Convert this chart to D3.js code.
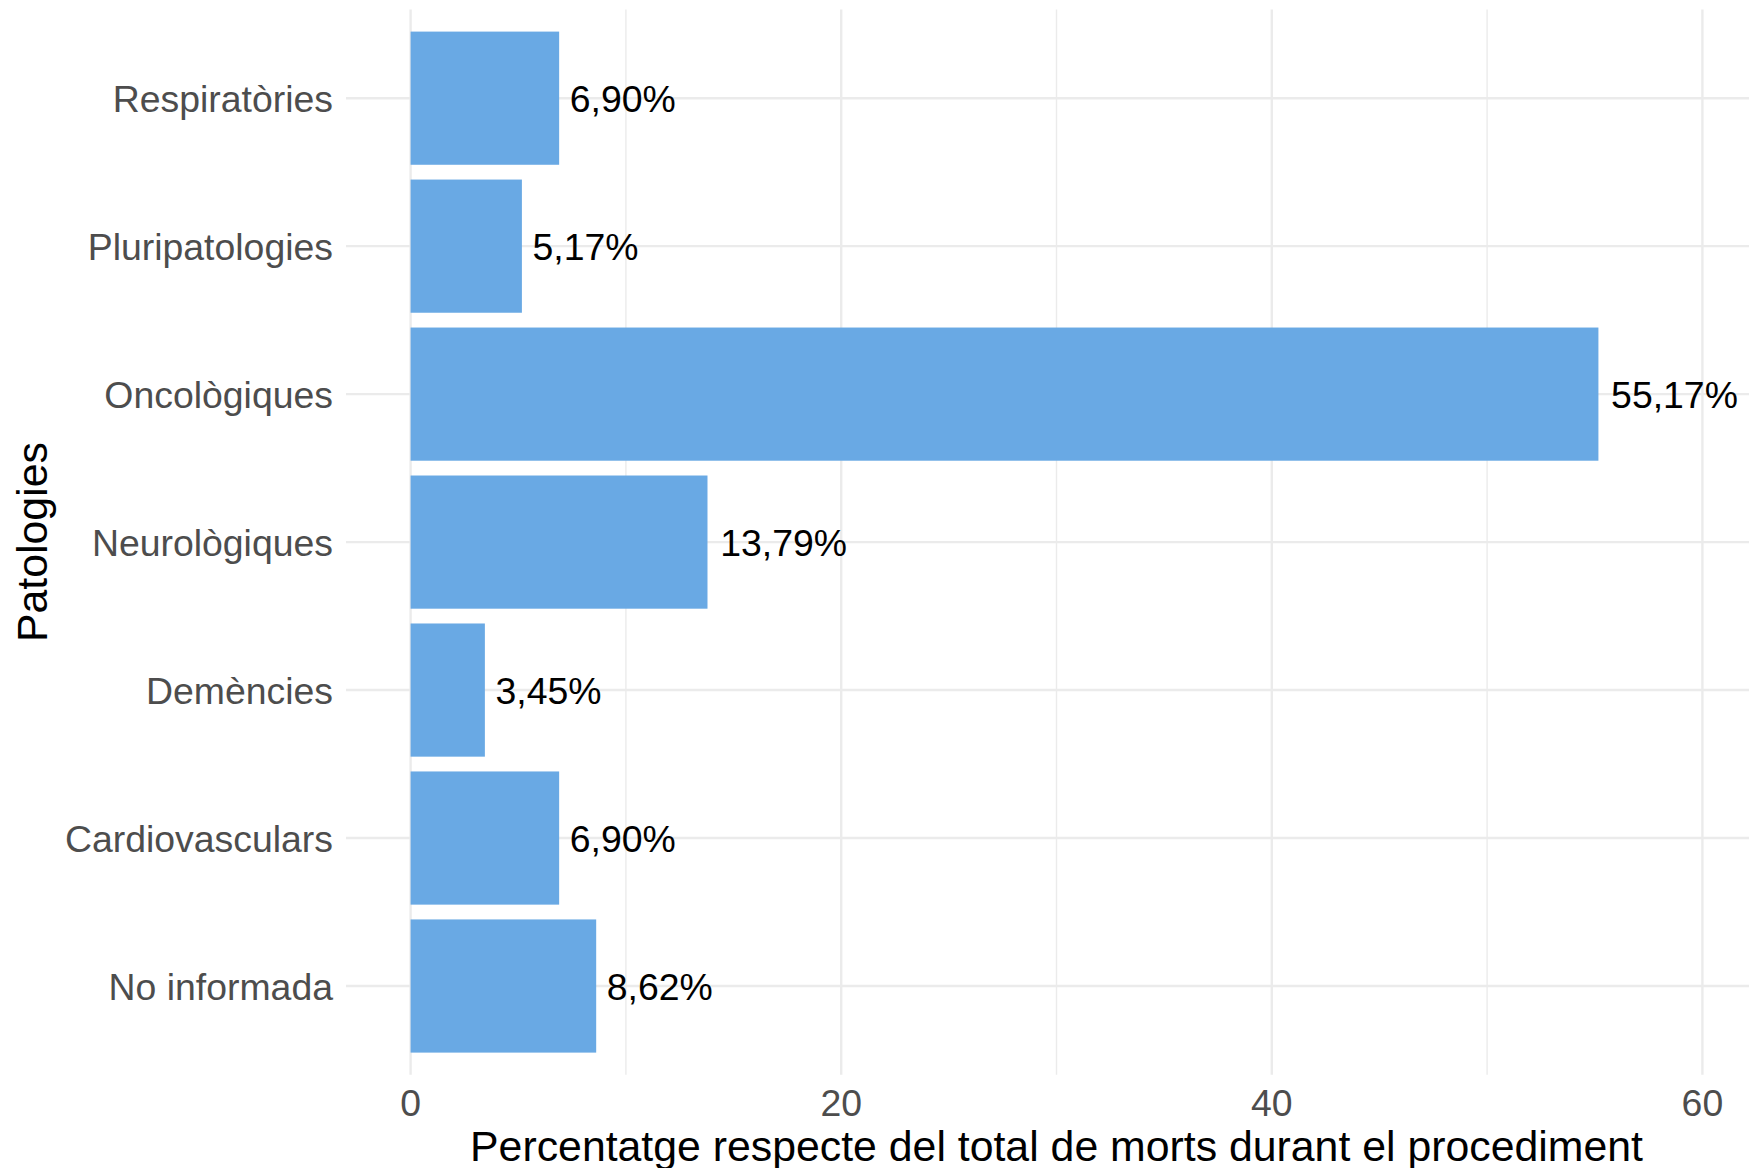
<!DOCTYPE html>
<html>
<head>
<meta charset="utf-8">
<script src="https://cdn.jsdelivr.net/npm/d3@7"></script>
<style>
  html, body { margin: 0; padding: 0; background: #ffffff; }
  svg { display: block; font-family: "Liberation Sans", Arial, sans-serif; }
</style>
</head>
<body>
<svg id="plotCanvas" width="1749" height="1168"></svg>
<script>
// data (top to bottom)
var categories = ["Respiratòries", "Pluripatologies", "Oncològiques", "Neurològiques", "Demències", "Cardiovasculars", "No informada"];
var percentages = [6.90, 5.17, 55.17, 13.79, 3.45, 6.90, 8.62];
var majorTicks = [0, 20, 40, 60];
var minorTicks = [10, 30, 50];
var xTitle = "Percentatge respecte del total de morts durant el procediment";
var yTitle = "Patologies";

var canvasWidth = 1749;
var canvasHeight = 1168;

var panelLeft = 346, panelRight = 1767, panelTop = 9.4, panelBottom = 1074.8;
var barColor = "#69A9E4";
var gridColor = "#EBEBEB";
var axisTextColor = "#4D4D4D";
var textSize = 37.4;
var titleSize = 42.8;

var canvas = d3.select("#plotCanvas");

var ca = d3.formatLocale({decimal: ",", thousands: ".", grouping: [3], currency: ["", "€"]});
var fmt = ca.format(".2f");

// x: 0..60 expanded by 5% on each side, like ggplot
var x = d3.scaleLinear()
    .domain([-3, 63])
    .range([panelLeft, panelRight]);

var y = d3.scaleBand()
    .domain(categories)
    .range([panelTop, panelBottom])
    .paddingInner(0.1)
    .paddingOuter(0.15);

var rows = categories.map(function(c, i) { return {cat: c, value: percentages[i]}; });

// grid
var grid = canvas.append("g").attr("class", "grid");

grid.selectAll(".minor")
    .data(minorTicks)
    .enter().append("line")
    .attr("class", "minor")
    .attr("x1", function(d) { return x(d); })
    .attr("x2", function(d) { return x(d); })
    .attr("y1", panelTop)
    .attr("y2", panelBottom)
    .attr("stroke", gridColor)
    .attr("stroke-width", 1.4);

grid.selectAll(".majorX")
    .data(majorTicks)
    .enter().append("line")
    .attr("class", "majorX")
    .attr("x1", function(d) { return x(d); })
    .attr("x2", function(d) { return x(d); })
    .attr("y1", panelTop)
    .attr("y2", panelBottom)
    .attr("stroke", gridColor)
    .attr("stroke-width", 2.4);

grid.selectAll(".majorY")
    .data(categories)
    .enter().append("line")
    .attr("class", "majorY")
    .attr("x1", panelLeft)
    .attr("x2", panelRight)
    .attr("y1", function(d) { return y(d) + y.bandwidth() / 2; })
    .attr("y2", function(d) { return y(d) + y.bandwidth() / 2; })
    .attr("stroke", gridColor)
    .attr("stroke-width", 2.4);

// bars
canvas.append("g").selectAll("rect")
    .data(rows)
    .enter().append("rect")
    .attr("x", x(0))
    .attr("y", function(d) { return y(d.cat); })
    .attr("width", function(d) { return x(d.value) - x(0); })
    .attr("height", y.bandwidth())
    .attr("fill", barColor);

// value labels, hjust = -0.1
var labels = canvas.append("g").selectAll("text")
    .data(rows)
    .enter().append("text")
    .attr("y", function(d) { return y(d.cat) + y.bandwidth() / 2; })
    .attr("dy", "0.38em")
    .attr("font-size", textSize + "px")
    .attr("fill", "#000000")
    .text(function(d) { return fmt(d.value) + "%"; });

labels.attr("x", function(d) { return x(d.value) + 0.1 * this.getComputedTextLength(); });

// category labels
canvas.append("g").selectAll("text")
    .data(categories)
    .enter().append("text")
    .attr("x", 333)
    .attr("y", function(d) { return y(d) + y.bandwidth() / 2; })
    .attr("dy", "0.38em")
    .attr("text-anchor", "end")
    .attr("font-size", textSize + "px")
    .attr("fill", axisTextColor)
    .text(function(d) { return d; });

// x tick labels
canvas.append("g").selectAll("text")
    .data(majorTicks)
    .enter().append("text")
    .attr("x", function(d) { return x(d); })
    .attr("y", 1116)
    .attr("text-anchor", "middle")
    .attr("font-size", textSize + "px")
    .attr("fill", axisTextColor)
    .text(function(d) { return d; });

// axis titles
canvas.append("text")
    .attr("x", (panelLeft + panelRight) / 2)
    .attr("y", 1161)
    .attr("text-anchor", "middle")
    .attr("font-size", titleSize + "px")
    .attr("fill", "#000000")
    .text(xTitle);

canvas.append("text")
    .attr("transform", "translate(47," + ((panelTop + panelBottom) / 2) + ") rotate(-90)")
    .attr("text-anchor", "middle")
    .attr("font-size", titleSize + "px")
    .attr("fill", "#000000")
    .text(yTitle);
</script>
</body>
</html>
